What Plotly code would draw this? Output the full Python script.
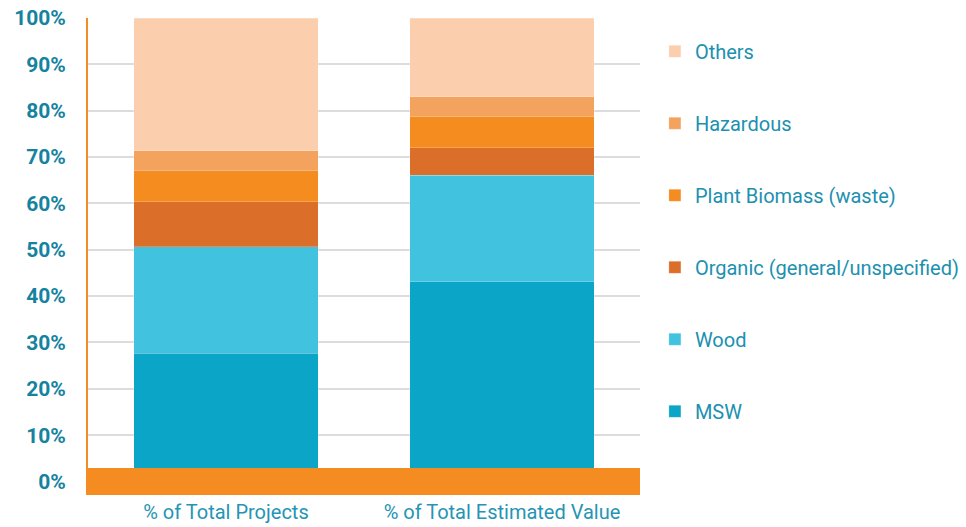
import plotly.graph_objects as go

categories = ["% of Total Projects", "% of Total Estimated Value"]
series_names = ["MSW", "Wood", "Organic (general/unspecified)", "Plant Biomass (waste)", "Hazardous", "Others"]
msw = [27.7, 43.1]
wood = [23.0, 23.0]
organic = [9.7, 5.9]
plant_biomass = [6.7, 6.8]
hazardous = [4.3, 4.2]
others = [28.6, 17.0]
y_ticks = [0, 10, 20, 30, 40, 50, 60, 70, 80, 90, 100]
y_tick_labels = ["0%", "10%", "20%", "30%", "40%", "50%", "60%", "70%", "80%", "90%", "100%"]

series_values = [msw, wood, organic, plant_biomass, hazardous, others]
colors = ["#0ba5c7", "#41c3e0", "#db6f29", "#f58c20", "#f4a35f", "#fbcfae"]

fig = go.Figure()
for i, (name, vals, col) in enumerate(zip(series_names, series_values, colors)):
    fig.add_trace(go.Bar(
        x=categories, y=vals, name=name, legendgroup=name,
        legendrank=1000 - i,
        marker=dict(color=col, line=dict(color="rgba(255,255,255,0.35)", width=0.6)),
    ))

teal = "#1a8aab"
fig.update_layout(
    barmode="stack",
    bargap=0.333,
    width=966, height=527,
    margin=dict(l=88, r=326, t=18, b=32, autoexpand=False),
    plot_bgcolor="white", paper_bgcolor="white",
    font=dict(family="Roboto", color=teal),
    showlegend=True,
    legend=dict(
        traceorder="grouped", tracegroupgap=43,
        x=1.027, xanchor="left", xref="paper", y=0.971, yanchor="top",
        yref="paper",
        font=dict(family="Roboto", size=20, color="#2090b0"),
        itemwidth=30, bgcolor="rgba(0,0,0,0)",
    ),
    xaxis=dict(
        showgrid=False, showline=False, ticks="",
        tickfont=dict(family="Roboto", size=20, color="#2594b5"),
        ticklabelstandoff=3,
    ),
    yaxis=dict(
        range=[-2.9, 100], tickmode="array", tickvals=y_ticks, ticktext=y_tick_labels,
        showgrid=True, gridcolor="#dcdcdc", gridwidth=2,
        zeroline=False, showline=True, linecolor="#f48c21", linewidth=2,
        ticks="", ticklabelstandoff=16, ticklabeloverflow="allow",
        tickfont=dict(family="Roboto", size=21, color="#15839f", weight="bold"),
    ),
)
fig.add_shape(
    type="rect", xref="paper", yref="y", x0=0, x1=1, y0=-2.9, y1=2.9,
    fillcolor="#f48c21", line=dict(width=0), layer="above",
)
fig.write_html("out.html", config={"displayModeBar": False},
               post_script="document.body.style.margin='0px';")
